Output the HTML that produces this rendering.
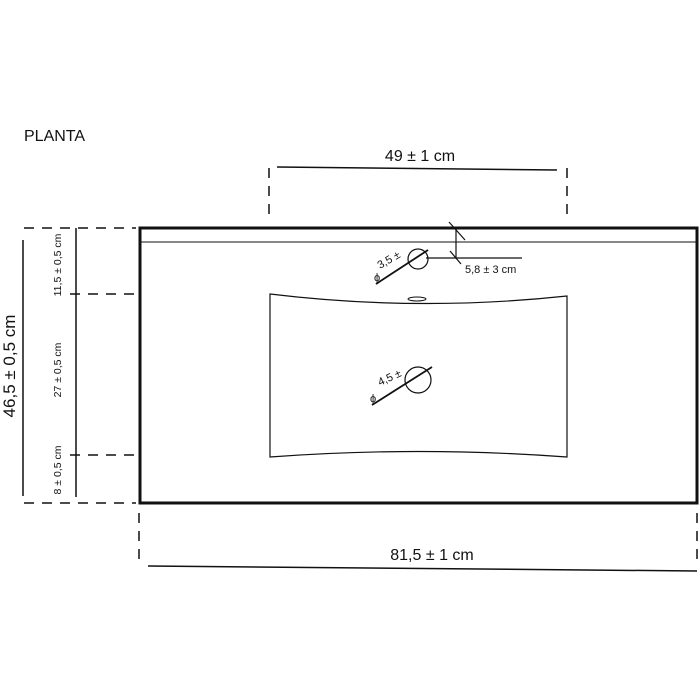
<!DOCTYPE html>
<html><head><style>body{margin:0;background:#fff}svg{display:block}text{font-family:"Liberation Sans",sans-serif;fill:#111}</style></head>
<body>
<svg width="700" height="700" viewBox="0 0 700 700" xmlns="http://www.w3.org/2000/svg">
<rect width="700" height="700" fill="#fff"/>
<text x="24" y="141" font-size="16">PLANTA</text>
<text x="420" y="161" font-size="16" text-anchor="middle">49 ± 1 cm</text>
<line x1="277" y1="167" x2="557" y2="170" stroke="#111" stroke-width="1.5"/>
<g stroke="#111" stroke-width="1.5" stroke-dasharray="10,8">
<line x1="269" y1="168" x2="269" y2="222"/>
<line x1="567" y1="168" x2="567" y2="222"/>
<line x1="139" y1="513" x2="139" y2="566"/>
<line x1="697" y1="513" x2="697" y2="566"/>
<line x1="24" y1="228" x2="136" y2="228"/>
<line x1="70" y1="294" x2="136" y2="294"/>
<line x1="70" y1="455" x2="136" y2="455"/>
<line x1="24" y1="503" x2="136" y2="503"/>
</g>
<rect x="140" y="228" width="557" height="275" fill="none" stroke="#111" stroke-width="3"/>
<line x1="140" y1="242" x2="697" y2="242" stroke="#111" stroke-width="1"/>
<path d="M270 294 Q418 312 567 296 L567 457 Q418 446 270 457 Z" fill="none" stroke="#111" stroke-width="1.2"/>
<ellipse cx="417" cy="299" rx="9" ry="2" fill="none" stroke="#111" stroke-width="1"/>
<circle cx="418" cy="380" r="13" fill="none" stroke="#111" stroke-width="1.2"/>
<line x1="372" y1="405" x2="432" y2="367" stroke="#111" stroke-width="1.8"/>
<text x="380" y="386" font-size="11" transform="rotate(-25 380 386)">4,5 ±</text>
<text x="370" y="402" font-size="11">ϕ</text>
<circle cx="418" cy="259" r="10" fill="none" stroke="#111" stroke-width="1.2"/>
<line x1="376" y1="284" x2="428" y2="250" stroke="#111" stroke-width="1.8"/>
<line x1="426" y1="258" x2="522" y2="258" stroke="#111" stroke-width="1.2"/>
<line x1="456" y1="228" x2="456" y2="258" stroke="#111" stroke-width="1.2"/>
<line x1="449" y1="222" x2="465" y2="240" stroke="#111" stroke-width="1.2"/>
<line x1="450" y1="251" x2="461" y2="264" stroke="#111" stroke-width="1.2"/>
<text x="465" y="273" font-size="11">5,8 ± 3 cm</text>
<text x="380" y="269" font-size="11" transform="rotate(-30 380 269)">3,5 ±</text>
<text x="374" y="281" font-size="11">ϕ</text>
<text x="432" y="560" font-size="16" text-anchor="middle">81,5 ± 1 cm</text>
<line x1="148" y1="566" x2="697" y2="571" stroke="#111" stroke-width="1.5"/>
<line x1="23" y1="240" x2="23" y2="496" stroke="#111" stroke-width="1.5"/>
<line x1="76" y1="228" x2="76" y2="497" stroke="#111" stroke-width="1.5"/>
<text transform="translate(15 366) rotate(-90)" font-size="17" text-anchor="middle">46,5 ± 0,5 cm</text>
<text transform="translate(61 265) rotate(-90)" font-size="10.5" text-anchor="middle">11,5 ± 0,5 cm</text>
<text transform="translate(61 370) rotate(-90)" font-size="10.5" text-anchor="middle">27 ± 0,5 cm</text>
<text transform="translate(61 470) rotate(-90)" font-size="10.5" text-anchor="middle">8 ± 0,5 cm</text>
</svg>
</body></html>
